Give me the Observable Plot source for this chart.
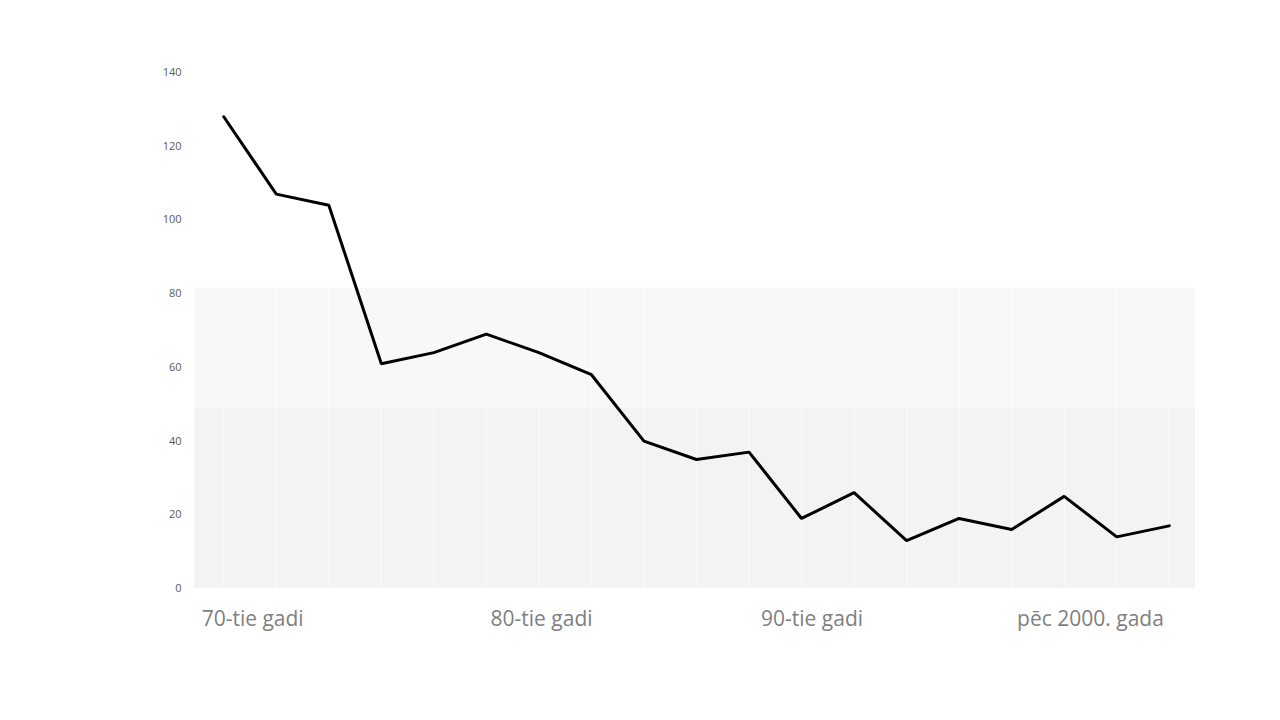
<!DOCTYPE html>
<html>
<head>
<meta charset="utf-8">
<script src="https://cdn.jsdelivr.net/npm/d3@7"></script>
<script src="https://cdn.jsdelivr.net/npm/@observablehq/plot@0.6"></script>
<style>
  html, body { margin: 0; padding: 0; background: #ffffff; }
  #chart { width: 1280px; height: 720px; }
</style>
</head>
<body>
<div id="chart"></div>
<script>
// Data
const values = [128, 107, 104, 61, 64, 69, 64, 58, 40, 35, 37, 19, 26, 13, 19, 16, 25, 14, 17];
const periodLabels = ["70-tie gadi", "80-tie gadi", "90-tie gadi", "pēc 2000. gada"];
const periodLabelAt = [0.55, 6.05, 11.2, 16.5];
const yTicks = [0, 20, 40, 60, 80, 100, 120, 140];
const bandTops = [81.5, 48.8];
const bandFills = ["#f8f8f8", "#f3f3f3"];

const points = values.map((v, i) => ({i, v}));
const bands = bandTops.map((t, k) => ({top: t, fill: bandFills[k]}));
const labels = periodLabels.map((l, k) => ({l, x: periodLabelAt[k]}));

const chart = Plot.plot({
  width: 1280,
  height: 720,
  marginLeft: 197,
  marginRight: 85,
  marginTop: 72,
  marginBottom: 132,
  style: {background: "#ffffff", color: "#595959", fontFamily: "'Open Sans', 'Liberation Sans', sans-serif"},
  x: {domain: [-0.5, values.length - 0.5], axis: null},
  y: {domain: [0, 140], axis: null},
  marks: [
    Plot.rectY(bands, {x1: -0.55, x2: values.length - 0.5, y1: 0, y2: "top", fill: "fill"}),
    Plot.ruleX(points, {x: "i", y1: 0, y2: 100, stroke: "#ffffff", strokeWidth: 1.5, strokeOpacity: 0.45}),
    Plot.axisY({ticks: yTicks, tickSize: 0, tickPadding: 16, fontSize: 11, fill: "#595959", label: null, tickFormat: d => d}),
    Plot.line(points, {x: "i", y: "v", stroke: "#000000", strokeWidth: 3, strokeLinejoin: "miter"}),
    Plot.text(labels, {x: "x", y: 0, text: "l", dy: 31, fontSize: 21, fill: "#7f7f7f", textAnchor: "middle"})
  ]
});
document.getElementById("chart").appendChild(chart);
</script>
</body>
</html>
